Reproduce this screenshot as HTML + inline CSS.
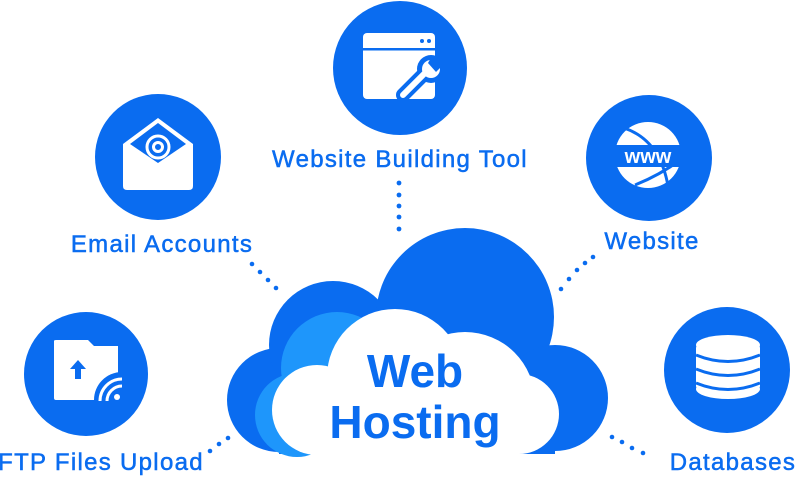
<!DOCTYPE html>
<html><head><meta charset="utf-8"><style>
html,body{margin:0;padding:0;background:#fff;}
svg{display:block}
text{font-family:"Liberation Sans",sans-serif;fill:#0a6cf0}
.lb{font-size:24px;letter-spacing:1.3px;stroke:#0a6cf0;stroke-width:0.5px}
</style></head><body>
<svg width="800" height="477" viewBox="0 0 800 477" xmlns="http://www.w3.org/2000/svg">
<!-- cloud -->
<g fill="#0a6cf0">
<circle cx="279" cy="400" r="52"/>
<circle cx="333" cy="345" r="64"/>
<circle cx="465" cy="317" r="89"/>
<circle cx="555" cy="398" r="53"/>
<rect x="279" y="380" width="276" height="74"/>
</g>
<g fill="#1e96fb">
<circle cx="337" cy="368" r="56"/>
<circle cx="297" cy="415" r="42"/>
<rect x="297" y="368" width="60" height="86"/>
</g>
<g fill="#fff">
<circle cx="317" cy="410" r="45"/>
<circle cx="395" cy="377" r="68"/>
<circle cx="465" cy="402" r="70"/>
<circle cx="519" cy="414" r="40"/>
<rect x="317" y="400" width="202" height="54"/>
</g>
<text x="415" y="387" font-size="46" font-weight="bold" text-anchor="middle">Web</text>
<text x="415" y="438" font-size="46" font-weight="bold" text-anchor="middle">Hosting</text>

<!-- dots -->
<g fill="#0a6cf0">
<circle cx="399" cy="183" r="2.4"/><circle cx="399" cy="195" r="2.4"/><circle cx="399" cy="206" r="2.4"/><circle cx="399" cy="217" r="2.4"/><circle cx="399" cy="229" r="2.4"/>
<circle cx="252" cy="264" r="2.3"/><circle cx="260" cy="272" r="2.3"/><circle cx="268" cy="280" r="2.3"/><circle cx="276" cy="288" r="2.3"/>
<circle cx="593" cy="257" r="2.3"/><circle cx="585" cy="263" r="2.3"/><circle cx="577" cy="270" r="2.3"/><circle cx="569" cy="279" r="2.3"/><circle cx="561" cy="289" r="2.3"/>
<circle cx="210" cy="451" r="2.3"/><circle cx="219" cy="444" r="2.3"/><circle cx="228" cy="438" r="2.3"/>
<circle cx="612" cy="437" r="2.3"/><circle cx="622" cy="442" r="2.3"/><circle cx="632" cy="448" r="2.3"/><circle cx="643" cy="453" r="2.3"/>
</g>

<!-- circles -->
<g fill="#0a6cf0">
<circle cx="400" cy="68" r="67"/>
<circle cx="158" cy="157" r="63"/>
<circle cx="649" cy="158" r="63"/>
<circle cx="86" cy="374" r="62"/>
<circle cx="727" cy="370" r="63"/>
</g>

<!-- builder icon -->
<rect x="363" y="33" width="72" height="66" rx="4" fill="#fff"/>
<rect x="363" y="48" width="72" height="2.5" fill="#0a6cf0"/>
<circle cx="422" cy="41" r="2" fill="#0a6cf0"/><circle cx="429" cy="41" r="2" fill="#0a6cf0"/>
<g>
<line x1="403" y1="95" x2="427" y2="71" stroke="#0a6cf0" stroke-width="14" stroke-linecap="round"/>
<circle cx="431" cy="69" r="14" fill="#0a6cf0"/>
<line x1="403" y1="95" x2="425" y2="73" stroke="#fff" stroke-width="6" stroke-linecap="round"/>
<circle cx="431" cy="69" r="9" fill="#fff"/>
<path d="M432 56 L442 66 L436 72 L428 63 Z" fill="#0a6cf0"/>
</g>

<!-- email icon -->
<path d="M123 144 L158 118 L193 144 L193 186 Q193 190 189 190 L127 190 Q123 190 123 186 Z" fill="#fff"/>
<path d="M130 144 L158 123 L186 144 L158 163 Z" fill="#0a6cf0"/>
<circle cx="158" cy="147" r="11" fill="none" stroke="#fff" stroke-width="3"/>
<circle cx="158" cy="147" r="4.5" fill="none" stroke="#fff" stroke-width="3"/>

<!-- www icon -->
<circle cx="648" cy="155" r="33" fill="#fff"/>
<path d="M624 128 Q660 140 668 186 M635 185 Q660 175 680 160" fill="none" stroke="#0a6cf0" stroke-width="3"/>
<rect x="612" y="145" width="74" height="22" fill="#0a6cf0"/>
<text x="648" y="163" font-size="20" font-weight="bold" text-anchor="middle" style="fill:#fff">www</text>

<!-- ftp icon -->
<path d="M54 341 Q54 340 56 340 L88 340 L94 346 L118 346 L118 400 L56 400 Q54 400 54 398 Z" fill="#fff"/>
<path d="M78 360 L70 369 L75 369 L75 379 L81 379 L81 369 L86 369 Z" fill="#0a6cf0"/>
<path d="M94 400 A28 28 0 0 1 122 372 L122 400 Z" fill="#0a6cf0"/>
<g fill="none" stroke="#fff" stroke-width="3">
<path d="M100 401 A22 22 0 0 1 122 379"/>
<path d="M107 401 A15 15 0 0 1 122 386"/>
</g>
<circle cx="117" cy="397" r="3" fill="#fff"/>

<!-- database icon -->
<g fill="#fff">
<ellipse cx="728" cy="345" rx="32" ry="10"/>
<rect x="696" y="345" width="64" height="44" rx="3"/>
<ellipse cx="728" cy="389" rx="32" ry="10"/>
</g>
<g fill="none" stroke="#0a6cf0" stroke-width="3">
<path d="M696 355 Q728 368 760 355"/>
<path d="M696 369 Q728 382 760 369"/>
<path d="M696 383 Q728 396 760 383"/>
</g>

<!-- labels -->
<text class="lb" x="400" y="167" text-anchor="middle">Website Building Tool</text>
<text class="lb" x="162" y="252" text-anchor="middle">Email Accounts</text>
<text class="lb" x="652" y="249" text-anchor="middle">Website</text>
<text class="lb" x="101" y="470" text-anchor="middle">FTP Files Upload</text>
<text class="lb" x="733" y="470" text-anchor="middle">Databases</text>
</svg>
</body></html>
